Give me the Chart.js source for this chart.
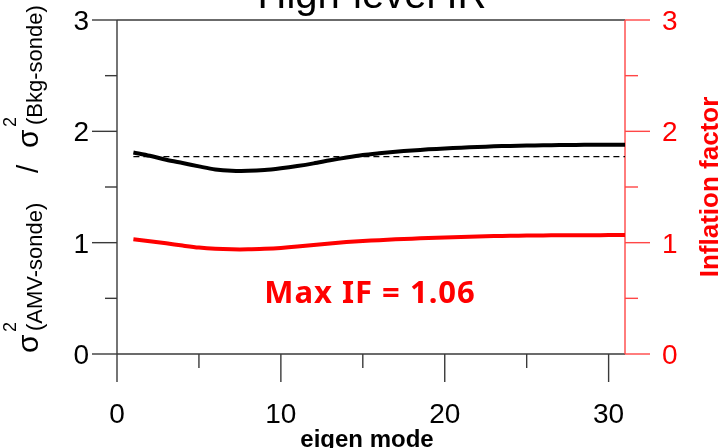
<!DOCTYPE html>
<html>
<head>
<meta charset="utf-8">
<script src="https://cdn.jsdelivr.net/npm/chart.js@4.4.1/dist/chart.umd.min.js"></script>
<style>
  html, body { margin: 0; padding: 0; background: #fff; overflow: hidden; }
  #wrap { width: 726px; height: 448px; }
</style>
</head>
<body>
<div id="wrap"><canvas id="chart" width="726" height="448"></canvas></div>
<script>
// ---------- data ----------
const MODES = [1, 2, 3, 4, 5, 6, 7, 8, 9, 10, 11, 12, 13, 14, 15, 16,
  17, 18, 19, 20, 21, 22, 23, 24, 25, 26, 27, 28, 29, 30, 31];
const VAR_RATIO = [1.81, 1.78, 1.745, 1.715, 1.685, 1.658, 1.646, 1.645, 1.652, 1.668,
  1.688, 1.712, 1.74, 1.765, 1.787, 1.803, 1.817, 1.828, 1.838, 1.846,
  1.853, 1.859, 1.865, 1.869, 1.872, 1.875, 1.877, 1.878, 1.879, 1.879, 1.88];
const INFLATION = [1.03, 1.012, 0.994, 0.974, 0.956, 0.945, 0.94, 0.94, 0.945, 0.953,
  0.965, 0.98, 0.993, 1.005, 1.015, 1.022, 1.03, 1.036, 1.042, 1.047,
  1.052, 1.056, 1.059, 1.062, 1.064, 1.065, 1.066, 1.067, 1.067, 1.068, 1.068];
const REF_X = [1, 31];
const REF_Y = [1.772, 1.772];

const X_TICKS = [0, 10, 20, 30];
const X_MINOR = [5, 15, 25];
const Y_TICKS = [0, 1, 2, 3];
const Y_MINOR = [0.5, 1.5, 2.5];

const TITLE = "High-level IR";
const X_TITLE = "eigen mode";
const Y2_TITLE = "Inflation factor";
const NOTE = "Max IF = 1.06";

const RED = "#ff0000";
const AXIS_RED = "rgb(255,70,70)";
const AXIS_GRAY = "#3a3a3a";
const FONT = '"Liberation Sans", Arial, sans-serif';
const TICK_FONT = `28px ${FONT}`;

const pts = (xs, ys) => xs.map((x, i) => ({ x, y: ys[i] }));

// ---------- axes, ticks and texts ----------
const decor = {
  id: "decor",
  beforeDatasetsDraw(chart) {
    const { ctx, chartArea: a } = chart;
    const xs = chart.scales.x, yl = chart.scales.y, yr = chart.scales.y2;
    ctx.save();
    ctx.lineWidth = 1.4;
    ctx.lineCap = "butt";
    const line = (x1, y1, x2, y2, c) => {
      ctx.strokeStyle = c;
      ctx.beginPath(); ctx.moveTo(x1, y1); ctx.lineTo(x2, y2); ctx.stroke();
    };
    // frame
    line(a.left, a.top, a.right, a.top, AXIS_GRAY);
    line(a.left, a.bottom, a.right, a.bottom, AXIS_GRAY);
    line(a.left, a.top, a.left, a.bottom, AXIS_GRAY);
    line(a.right, a.top, a.right, a.bottom, AXIS_RED);
    // x ticks
    X_TICKS.forEach((v) => { const p = xs.getPixelForValue(v); line(p, a.bottom, p, a.bottom + 28, AXIS_GRAY); });
    X_MINOR.forEach((v) => { const p = xs.getPixelForValue(v); line(p, a.bottom, p, a.bottom + 14, AXIS_GRAY); });
    // left ticks
    Y_TICKS.forEach((v) => { const p = yl.getPixelForValue(v); line(a.left - 25, p, a.left, p, AXIS_GRAY); });
    Y_MINOR.forEach((v) => { const p = yl.getPixelForValue(v); line(a.left - 12, p, a.left, p, AXIS_GRAY); });
    // right ticks
    Y_TICKS.forEach((v) => { const p = yr.getPixelForValue(v); line(a.right, p, a.right + 25, p, AXIS_RED); });
    Y_MINOR.forEach((v) => { const p = yr.getPixelForValue(v); line(a.right, p, a.right + 13, p, AXIS_RED); });

    // tick labels
    ctx.font = TICK_FONT;
    ctx.textBaseline = "alphabetic";
    ctx.fillStyle = "#000";
    ctx.textAlign = "center";
    X_TICKS.forEach((v) => ctx.fillText(String(v), xs.getPixelForValue(v), 423));
    ctx.textAlign = "right";
    Y_TICKS.forEach((v) => ctx.fillText(String(v), 89, yl.getPixelForValue(v) + 10));
    ctx.fillStyle = RED;
    ctx.textAlign = "left";
    Y_TICKS.forEach((v) => ctx.fillText(String(v), 662, yr.getPixelForValue(v) + 10));
    ctx.restore();
  },
  afterDraw(chart) {
    const { ctx } = chart;
    ctx.save();
    // title (mostly off the top)
    ctx.fillStyle = "#000";
    ctx.font = `40px ${FONT}`;
    ctx.textAlign = "center";
    ctx.textBaseline = "alphabetic";
    ctx.fillText(TITLE, 372, 8);
    // x title
    ctx.font = `bold 24px ${FONT}`;
    ctx.fillText(X_TITLE, 367, 447);
    // note
    ctx.fillStyle = RED;
    ctx.font = 'bold 31px "Noto Sans", sans-serif';
    ctx.letterSpacing = "1px";
    ctx.fillText(NOTE, 370, 303);
    ctx.letterSpacing = "0px";
    // right title
    ctx.save();
    ctx.translate(718, 187);
    ctx.rotate(-Math.PI / 2);
    ctx.font = `bold 26px ${FONT}`;
    ctx.fillText(Y2_TITLE, 0, 0);
    ctx.restore();
    // left title: σ²(AMV-sonde) / σ²(Bkg-sonde)
    ctx.save();
    ctx.translate(38, 353);
    ctx.rotate(-Math.PI / 2);
    ctx.fillStyle = "#000";
    ctx.textAlign = "left";
    const big = `30px ${FONT}`, sup = `18px ${FONT}`, sub = `22px ${FONT}`;
    const put = (t, f, u, v) => { ctx.font = f; ctx.fillText(t, u, v); };
    put("σ", big, 0, 0);
    put("2", sup, 21, -22);
    put("(AMV-sonde)", sub, 22, 4);
    put("/", big, 180, 0);
    put("σ", big, 205, 0);
    put("2", sup, 226, -22);
    put("(Bkg-sonde)", sub, 228, 4);
    ctx.restore();
    ctx.restore();
  }
};

// ---------- chart ----------
const ctx = document.getElementById("chart").getContext("2d");
new Chart(ctx, {
  type: "line",
  data: {
    datasets: [
      {
        label: "ratio", data: pts(MODES, VAR_RATIO), yAxisID: "y",
        borderColor: "#000", borderWidth: 4, pointRadius: 0, tension: 0.3, fill: false
      },
      {
        label: "reference", data: pts(REF_X, REF_Y), yAxisID: "y",
        borderColor: "#000", borderWidth: 1.3, borderDash: [6, 4], pointRadius: 0, fill: false
      },
      {
        label: "inflation", data: pts(MODES, INFLATION), yAxisID: "y2",
        borderColor: RED, borderWidth: 4, pointRadius: 0, tension: 0.3, fill: false
      }
    ]
  },
  options: {
    responsive: false,
    animation: false,
    devicePixelRatio: 1,
    layout: { padding: { top: 20, left: 0, right: 0, bottom: 0 } },
    plugins: { legend: { display: false }, tooltip: { enabled: false }, title: { display: false } },
    scales: {
      x: {
        type: "linear", min: 0, max: 31,
        afterBuildTicks: (s) => { s.ticks = X_TICKS.map((v) => ({ value: v })); },
        afterFit: (s) => { s.height = 94; },
        grid: { display: false, drawTicks: false, tickLength: 0 },
        border: { display: false },
        ticks: { display: false }
      },
      y: {
        type: "linear", position: "left", min: 0, max: 3,
        afterBuildTicks: (s) => { s.ticks = Y_TICKS.map((v) => ({ value: v })); },
        afterFit: (s) => { s.width = 117; },
        grid: { display: false, drawTicks: false, tickLength: 0 },
        border: { display: false },
        ticks: { display: false }
      },
      y2: {
        type: "linear", position: "right", min: 0, max: 3,
        afterBuildTicks: (s) => { s.ticks = Y_TICKS.map((v) => ({ value: v })); },
        afterFit: (s) => { s.width = 101; },
        grid: { display: false, drawTicks: false, tickLength: 0 },
        border: { display: false },
        ticks: { display: false }
      }
    }
  },
  plugins: [decor]
});
</script>
</body>
</html>
